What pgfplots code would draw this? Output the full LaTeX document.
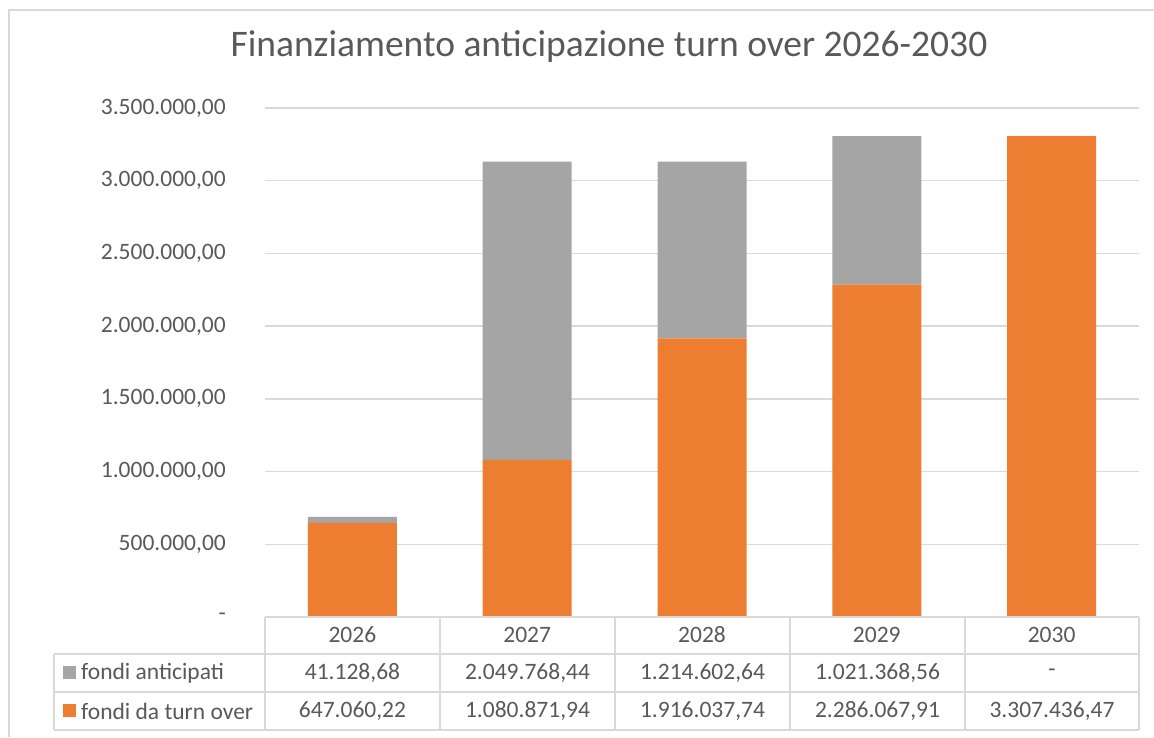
\documentclass[border=0pt]{standalone}
\usepackage{pgfplots}
\pgfplotsset{compat=1.18}
\usepackage{fontspec}
\setmainfont{Carlito}
\definecolor{txt}{HTML}{595959}
\definecolor{grd}{HTML}{D9D9D9}
\definecolor{orng}{HTML}{ED7D31}
\definecolor{gry}{HTML}{A5A5A5}
\begin{document}
\begin{tikzpicture}[x=1pt,y=1pt]
\useasboundingbox (0,0) rectangle (1154,737);
\fill[white] (0,0) rectangle (1154,737);
\draw[grd, line width=1.5pt] (9,0) -- (9,727) -- (1154,727);
\node[txt, font=\fontsize{37.5}{42}\selectfont] at (609,690) {Finanziamento anticipazione turn over 2026-2030};
\begin{axis}[
  at={(265pt,120pt)}, anchor=south west,
  width=874pt, height=509pt, scale only axis,
  ymin=0, ymax=3500000, xmin=-0.5, xmax=4.5,
  ybar stacked, bar width=89pt,
  axis line style={draw=none}, major tick length=0pt,
  ymajorgrids, grid style={grd, line width=1.3pt},
  ytick={0,500000,1000000,1500000,2000000,2500000,3000000,3500000},
  yticklabels={{-},{500.000,00},{1.000.000,00},{1.500.000,00},{2.000.000,00},{2.500.000,00},{3.000.000,00},{3.500.000,00}},
  yticklabel style={anchor=east, inner sep=0pt, xshift=-39pt, text=txt, font=\fontsize{23.5}{28}\selectfont},
  xtick={0,1,2,3,4},
  xticklabels={2026,2027,2028,2029,2030},
  xticklabel style={anchor=center, yshift=-18pt, text=txt, font=\fontsize{23.5}{28}\selectfont},
  scaled y ticks=false,
  clip=false,
]
\addplot[fill=orng, draw=none] coordinates {(0,647060.22) (1,1080871.94) (2,1916037.74) (3,2286067.91) (4,3307436.47)};
\addplot[fill=gry, draw=none] coordinates {(0,41128.68) (1,2049768.44) (2,1214602.64) (3,1021368.56) (4,0)};
\end{axis}
% data table grid
\draw[grd, line width=1.5pt] (265,120) -- (1139,120);
\foreach \yy in {83,45,7} {\draw[grd, line width=1.5pt] (54,\yy) -- (1139,\yy);}
\foreach \xx in {265,440,615,790,965,1139} {\draw[grd, line width=1.5pt] (\xx,120) -- (\xx,7);}
\draw[grd, line width=1.5pt] (54,83) -- (54,7);
% legend keys and row labels
\fill[gry] (63,58) rectangle (76,71);
\fill[orng] (63,20) rectangle (76,33);
\begin{scope}[every node/.style={text=txt, font=\fontsize{23.5}{28}\selectfont}]
\node[anchor=west, inner sep=0pt] at (81,64) {fondi anticipati};
\node[anchor=west, inner sep=0pt] at (81,26) {fondi da turn over};
\node at (352.5,64) {41.128,68};
\node at (527.5,64) {2.049.768,44};
\node at (702.5,64) {1.214.602,64};
\node at (877.5,64) {1.021.368,56};
\node at (1052,64) {-};
\node at (352.5,26) {647.060,22};
\node at (527.5,26) {1.080.871,94};
\node at (702.5,26) {1.916.037,74};
\node at (877.5,26) {2.286.067,91};
\node at (1052,26) {3.307.436,47};
\end{scope}
\end{tikzpicture}
\end{document}
